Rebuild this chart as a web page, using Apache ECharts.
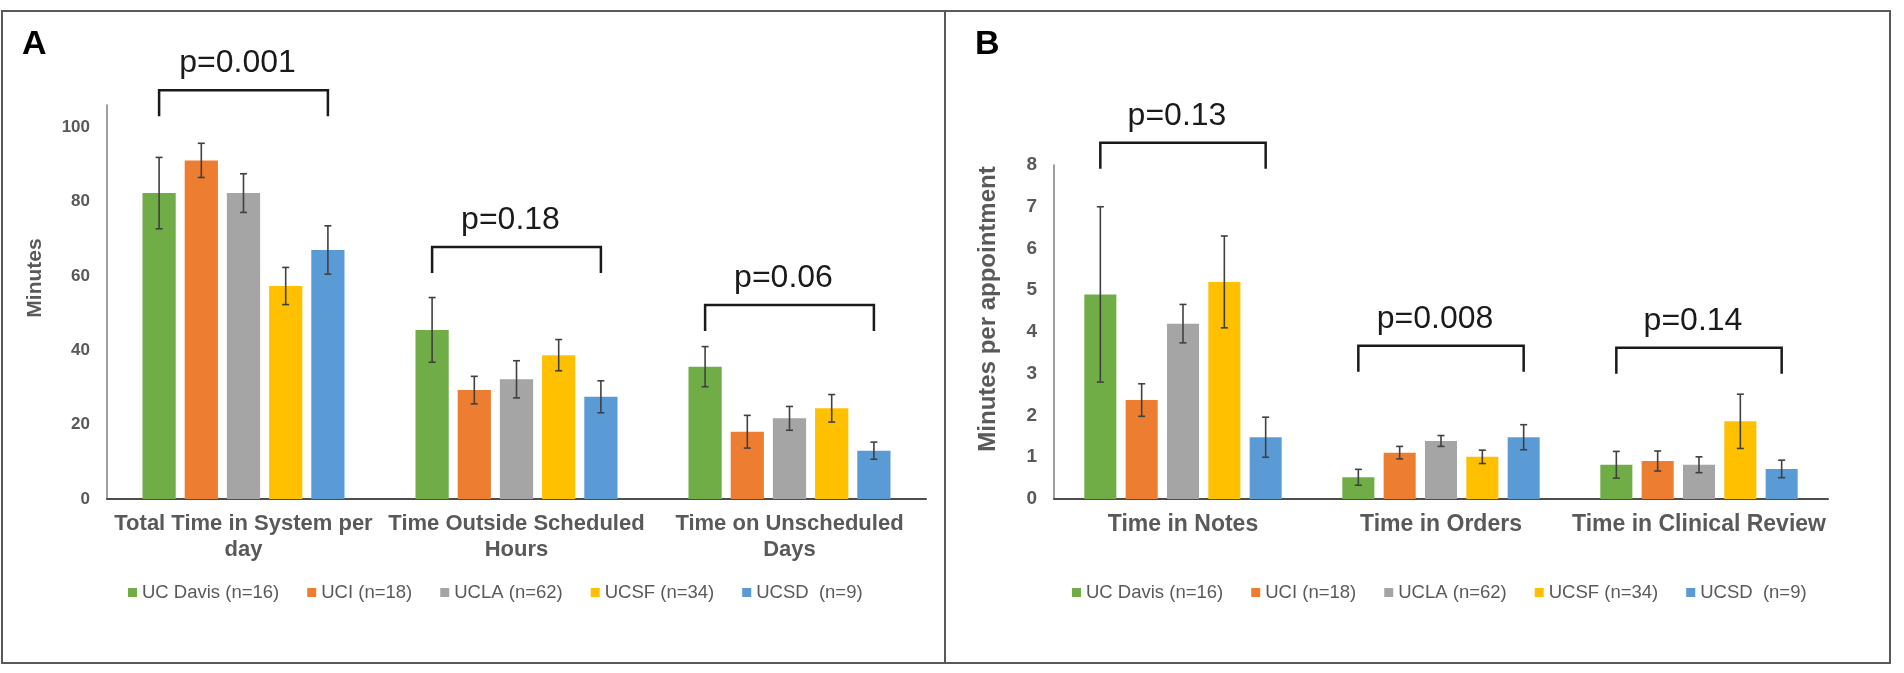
<!DOCTYPE html>
<html>
<head>
<meta charset="utf-8">
<script src="https://cdn.jsdelivr.net/npm/echarts@6/dist/echarts.min.js"></script>
<style>
  html, body { margin: 0; padding: 0; background: #fff; }
  #main { width: 1904px; height: 673px; }
</style>
</head>
<body>
<div id="main"></div>
<script>
// sites (legend) and their colours
var SITES = ['UC Davis (n=16)', 'UCI (n=18)', 'UCLA (n=62)', 'UCSF (n=34)', 'UCSD  (n=9)'];
var SITE_COLORS = ['#70AD47', '#ED7D31', '#A5A5A5', '#FFC000', '#5B9BD5'];

// panel A: minutes
var CATS_A = ['Total Time in System per\nday', 'Time Outside Scheduled\nHours', 'Time on Unscheduled\nDays'];
var MEANS_A = [
  [82.3, 45.5, 35.6],   // UC Davis
  [91.1, 29.3, 18.1],   // UCI
  [82.3, 32.2, 21.7],   // UCLA
  [57.3, 38.7, 24.4],   // UCSF
  [67.0, 27.5, 13.0]    // UCSD
];
var ERRS_A = [
  [9.6, 8.7, 5.4],
  [4.6, 3.7, 4.4],
  [5.2, 5.0, 3.2],
  [5.0, 4.2, 3.7],
  [6.5, 4.3, 2.3]
];
var PVALS_A = ['p=0.001', 'p=0.18', 'p=0.06'];
var BRACKET_Y_A = [110, 67.8, 52.2];

// panel B: minutes per appointment
var CATS_B = ['Time in Notes', 'Time in Orders', 'Time in Clinical Review'];
var MEANS_B = [
  [4.9, 0.52, 0.82],
  [2.37, 1.11, 0.91],
  [4.2, 1.39, 0.82],
  [5.2, 1.01, 1.86],
  [1.48, 1.48, 0.72]
];
var ERRS_B = [
  [2.1, 0.19, 0.32],
  [0.39, 0.15, 0.24],
  [0.46, 0.13, 0.19],
  [1.1, 0.16, 0.65],
  [0.48, 0.3, 0.21]
];
var PVALS_B = ['p=0.13', 'p=0.008', 'p=0.14'];
var BRACKET_Y_B = [8.53, 3.67, 3.62];

var FONT = "'Liberation Sans', Arial, sans-serif";
var LABEL_COLOR = '#595959';

var PANELS = [
  {
    cats: CATS_A, means: MEANS_A, errs: ERRS_A, pvals: PVALS_A, bracketY: BRACKET_Y_A,
    grid: { left: 107, top: 105, width: 819, height: 394 },
    max: 106, interval: 20, yFont: 17, xFont: 22, xMargin: 12,
    barGap: 0.27, catGap: 0.26, legendLeft: 123
  },
  {
    cats: CATS_B, means: MEANS_B, errs: ERRS_B, pvals: PVALS_B, bracketY: BRACKET_Y_B,
    grid: { left: 1054, top: 165, width: 774, height: 334 },
    max: 8, interval: 1, yFont: 19, xFont: 23, xMargin: 13,
    barGap: 0.29, catGap: 0.235, legendLeft: 1067
  }
];

var myChart = echarts.init(document.getElementById('main'));

/**
 * 误差线
 */
function makeErrorRender(p) {
  return function(params, api) {
    var cat = api.value(0);
    var site = api.value(1);
    var lo = api.coord([cat, api.value(2)]);
    var hi = api.coord([cat, api.value(3)]);
    var band = api.size([1, 0])[0];
    var barW = band * (1 - p.catGap) / (5 + 4 * p.barGap);
    var x = lo[0] + (site - 2) * barW * (1 + p.barGap);
    var cap = 3.5;
    var style = { stroke: '#404040', lineWidth: 1.6 };
    return {
      type: 'group',
      children: [
        { type: 'line', shape: { x1: x, y1: lo[1], x2: x, y2: hi[1] }, style: style },
        { type: 'line', shape: { x1: x - cap, y1: hi[1], x2: x + cap, y2: hi[1] }, style: style },
        { type: 'line', shape: { x1: x - cap, y1: lo[1], x2: x + cap, y2: lo[1] }, style: style }
      ]
    };
  };
}

var grids = [], xAxes = [], yAxes = [], series = [], legends = [];

PANELS.forEach(function(p, pi) {
  grids.push(p.grid);
  xAxes.push({
    type: 'category',
    gridIndex: pi,
    data: p.cats,
    axisTick: { show: false },
    axisLine: { lineStyle: { color: '#4d4d4d', width: 2 } },
    axisLabel: {
      interval: 0,
      margin: p.xMargin,
      color: LABEL_COLOR,
      fontFamily: FONT,
      fontWeight: 'bold',
      fontSize: p.xFont,
      lineHeight: 26
    }
  });
  yAxes.push({
    type: 'value',
    gridIndex: pi,
    min: 0,
    max: p.max,
    interval: p.interval,
    splitLine: { show: false },
    axisTick: { show: false },
    axisLine: { show: true, lineStyle: { color: '#7f7f7f', width: 1.5 } },
    axisLabel: {
      margin: 17,
      color: LABEL_COLOR,
      fontFamily: FONT,
      fontWeight: 'bold',
      fontSize: p.yFont,
      formatter: function(v) { return v % p.interval === 0 ? v : ''; }
    }
  });

  var errData = [];
  SITES.forEach(function(name, si) {
    series.push({
      name: name,
      type: 'bar',
      xAxisIndex: pi,
      yAxisIndex: pi,
      data: p.means[si],
      barGap: (p.barGap * 100) + '%',
      barCategoryGap: (p.catGap * 100) + '%',
      itemStyle: { color: SITE_COLORS[si] }
    });
    p.means[si].forEach(function(m, ci) {
      errData.push([ci, si, m - p.errs[si][ci], m + p.errs[si][ci]]);
    });
  });
  series.push({
    type: 'custom',
    xAxisIndex: pi,
    yAxisIndex: pi,
    renderItem: makeErrorRender(p),
    encode: { x: 0, y: [2, 3] },
    data: errData,
    z: 10
  });

  legends.push({
    data: SITES,
    left: p.legendLeft,
    top: 578,
    icon: 'rect',
    itemWidth: 9,
    itemHeight: 9,
    itemGap: 28,
    textStyle: { color: LABEL_COLOR, fontFamily: FONT, fontSize: 18.5 }
  });
});

myChart.setOption({
  animation: false,
  backgroundColor: '#fff',
  grid: grids,
  xAxis: xAxes,
  yAxis: yAxes,
  legend: legends,
  series: series
});

/**
 * 边框、面板字母、轴标题与显著性括号
 */
var graphics = [
  { type: 'rect', shape: { x: 2, y: 11, width: 943, height: 652 },
    style: { fill: 'none', stroke: '#595959', lineWidth: 2 } },
  { type: 'rect', shape: { x: 945, y: 11, width: 945, height: 652 },
    style: { fill: 'none', stroke: '#595959', lineWidth: 2 } },
  { type: 'text', x: 22, y: 45,
    style: { text: 'A', font: 'bold 34px ' + FONT, fill: '#000', align: 'left', verticalAlign: 'middle' } },
  { type: 'text', x: 975, y: 45,
    style: { text: 'B', font: 'bold 34px ' + FONT, fill: '#000', align: 'left', verticalAlign: 'middle' } },
  { type: 'text', x: 35, y: 278, rotation: Math.PI / 2,
    style: { text: 'Minutes', font: 'bold 21px ' + FONT, fill: LABEL_COLOR, align: 'center', verticalAlign: 'middle' } },
  { type: 'text', x: 988, y: 309, rotation: Math.PI / 2,
    style: { text: 'Minutes per appointment', font: 'bold 24px ' + FONT, fill: LABEL_COLOR, align: 'center', verticalAlign: 'middle' } }
];

PANELS.forEach(function(p, pi) {
  var band = p.grid.width / p.cats.length;
  var barW = band * (1 - p.catGap) / (5 + 4 * p.barGap);
  var pitch = barW * (1 + p.barGap);
  p.bracketY.forEach(function(level, ci) {
    var pt = myChart.convertToPixel({ gridIndex: pi }, [ci, level]);
    var left = pt[0] - 2 * pitch;
    var right = pt[0] + 2 * pitch;
    var y = pt[1];
    graphics.push({
      type: 'polyline',
      shape: { points: [[left, y + 26], [left, y], [right, y], [right, y + 26]] },
      style: { stroke: '#1a1a1a', lineWidth: 2.5, fill: 'none' }
    });
    graphics.push({
      type: 'text', x: pt[0] - 6, y: y - 27,
      style: { text: p.pvals[ci], font: '32px ' + FONT, fill: '#1a1a1a', align: 'center', verticalAlign: 'middle' }
    });
  });
});

myChart.setOption({ graphic: graphics });
window.onresize = myChart.resize;
</script>
</body>
</html>
